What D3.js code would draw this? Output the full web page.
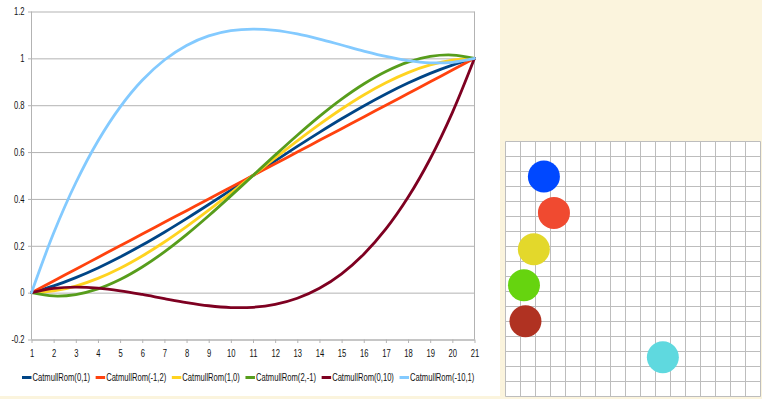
<!DOCTYPE html>
<html>
<head>
<meta charset="utf-8">
<script src="https://cdn.jsdelivr.net/npm/d3@7"></script>
<style>
  html, body { margin: 0; padding: 0; background: #fbf4dd; }
  svg { display: block; }
  text { font-family: "Liberation Sans", Arial, sans-serif; }
</style>
</head>
<body>
<svg id="chart" width="762" height="399"></svg>
<script>
// ---- data ----
const xValues = [1,2,3,4,5,6,7,8,9,10,11,12,13,14,15,16,17,18,19,20,21];
const seriesNames = ["CatmullRom(0,1)","CatmullRom(-1,2)","CatmullRom(1,0)","CatmullRom(2,-1)","CatmullRom(0,10)","CatmullRom(-10,1)"];
const seriesColors = ["#004586","#ff420e","#ffd320","#579d1c","#7e0021","#83caff"];
const s01   = [0,0.0286,0.064,0.1054,0.152,0.2031,0.258,0.3159,0.376,0.4376,0.5,0.5624,0.624,0.6841,0.742,0.7969,0.848,0.8946,0.936,0.9714,1];
const sm12  = [0,0.05,0.1,0.15,0.2,0.25,0.3,0.35,0.4,0.45,0.5,0.55,0.6,0.65,0.7,0.75,0.8,0.85,0.9,0.95,1];
const s10   = [0,0.0073,0.028,0.0608,0.104,0.1563,0.216,0.2818,0.352,0.4253,0.5,0.5748,0.648,0.7183,0.784,0.8438,0.896,0.9393,0.972,0.9928,1];
const s2m1  = [0,-0.0141,-0.008,0.0161,0.056,0.1094,0.174,0.2476,0.328,0.4129,0.5,0.5871,0.672,0.7524,0.826,0.8906,0.944,0.9839,1.008,1.0141,1];
const s010  = [0,0.0179,0.0235,0.0193,0.008,-0.0078,-0.0255,-0.0424,-0.056,-0.0636,-0.0625,-0.0502,-0.024,0.0187,0.0805,0.1641,0.272,0.4069,0.5715,0.7683,1];
const sm101 = [0,0.2543,0.469,0.6473,0.792,0.9063,0.993,1.0553,1.096,1.1183,1.125,1.1193,1.104,1.0823,1.057,1.0313,1.008,0.9903,0.981,0.9833,1];
const seriesValues = [s01, sm12, s10, s2m1, s010, sm101];
const yTicks = [-0.2,0,0.2,0.4,0.6,0.8,1,1.2];
const yTickLabels = ["-0.2","0","0.2","0.4","0.6","0.8","1","1.2"];

// right panel: balls on a 17x17 grid (grid cell units)
const ballX = [2.56,3.23,1.89,1.23,1.33,10.49];
const ballY = [2.33,4.76,7.18,9.58,11.98,14.38];
const ballColors = ["#0048ff","#f04a30","#e3d82b","#66d40f","#b03222","#5fd9df"];
const gridCells = 17;

// ---- drawing ----
const svg = d3.select("#chart");
const SX = 0.763; // horizontal text compression

svg.append("rect").attr("x",0).attr("y",0).attr("width",500).attr("height",396).attr("fill","#ffffff");

const x = d3.scaleLinear().domain([1,21]).range([31.5,474.5]);
const y = d3.scaleLinear().domain([-0.2,1.2]).range([339.5,11.5]);
const gridCol = "#b3b3b3";

// y gridlines + axis
const yAx = svg.append("g").attr("transform",`translate(${x(1)},0)`)
  .call(d3.axisLeft(y).tickValues(yTicks).tickSize(0).tickFormat((d,i)=>yTickLabels[i]));
yAx.select(".domain").remove();
yAx.selectAll(".tick line").attr("x1",-3.5).attr("x2",x(21)-x(1)).attr("stroke",gridCol);
yAx.selectAll(".tick text")
  .attr("x",-7/SX).attr("dy","0.33em").attr("transform",`scale(${SX},1)`)
  .attr("font-size",10).attr("fill","#111").attr("font-family","Liberation Sans, Arial, sans-serif");

// plot border (top/right/left)
svg.append("line").attr("x1",x(1)).attr("x2",x(1)).attr("y1",y(1.2)).attr("y2",y(-0.2)).attr("stroke",gridCol);
svg.append("line").attr("x1",x(21)).attr("x2",x(21)).attr("y1",y(1.2)).attr("y2",y(-0.2)).attr("stroke",gridCol);

// x axis
const xAx = svg.append("g").attr("transform",`translate(0,${y(-0.2)})`)
  .call(d3.axisBottom(x).tickValues(xValues).tickSize(3.5).tickSizeOuter(0).tickFormat(d3.format("d")));
xAx.select(".domain").attr("stroke",gridCol);
xAx.selectAll(".tick line").attr("stroke",gridCol);
xAx.selectAll(".tick text")
  .attr("y",18).attr("dy",0).attr("transform",`scale(${SX},1)`)
  .attr("font-size",10).attr("fill","#111").attr("font-family","Liberation Sans, Arial, sans-serif");

// series lines
const line = d3.line().x((d,i)=>x(xValues[i])).y(d=>y(d)).curve(d3.curveCatmullRom);
svg.append("g").selectAll("path").data(seriesValues).join("path")
  .attr("d",line).attr("fill","none")
  .attr("stroke",(d,i)=>seriesColors[i]).attr("stroke-width",2.8)
  .attr("stroke-linejoin","round").attr("stroke-linecap","round");

// legend
const leg = svg.append("g");
let lx = 22;
const ly = 377.5;
seriesNames.forEach((name,i)=>{
  leg.append("line").attr("x1",lx).attr("x2",lx+9.5).attr("y1",ly).attr("y2",ly)
    .attr("stroke",seriesColors[i]).attr("stroke-width",3);
  const t = leg.append("text").attr("x",(lx+10.5)/SX).attr("y",ly+3.5)
    .attr("transform",`scale(${SX},1)`).attr("font-size",10).attr("fill","#111").text(name);
  const w = t.node().getComputedTextLength()*SX;
  lx = lx + 10.5 + w + 5.6;
});

// right panel grid
const gx = d3.scaleLinear().domain([0,gridCells]).range([505.5,760.5]);
const gy = d3.scaleLinear().domain([0,gridCells]).range([141.5,396.5]);
svg.append("rect").attr("x",gx(0)).attr("y",gy(0)).attr("width",gx(gridCells)-gx(0)).attr("height",gy(gridCells)-gy(0)).attr("fill","#ffffff");
const gl = svg.append("g").attr("stroke","#bdbdbd").attr("stroke-width",1);
d3.range(gridCells+1).forEach(k=>{
  gl.append("line").attr("x1",gx(k)).attr("x2",gx(k)).attr("y1",gy(0)).attr("y2",gy(gridCells));
  gl.append("line").attr("x1",gx(0)).attr("x2",gx(gridCells)).attr("y1",gy(k)).attr("y2",gy(k));
});
svg.append("g").selectAll("circle").data(ballX).join("circle")
  .attr("cx",(d)=>gx(d)).attr("cy",(d,i)=>gy(ballY[i])).attr("r",16)
  .attr("fill",(d,i)=>ballColors[i]);
</script>
</body>
</html>
